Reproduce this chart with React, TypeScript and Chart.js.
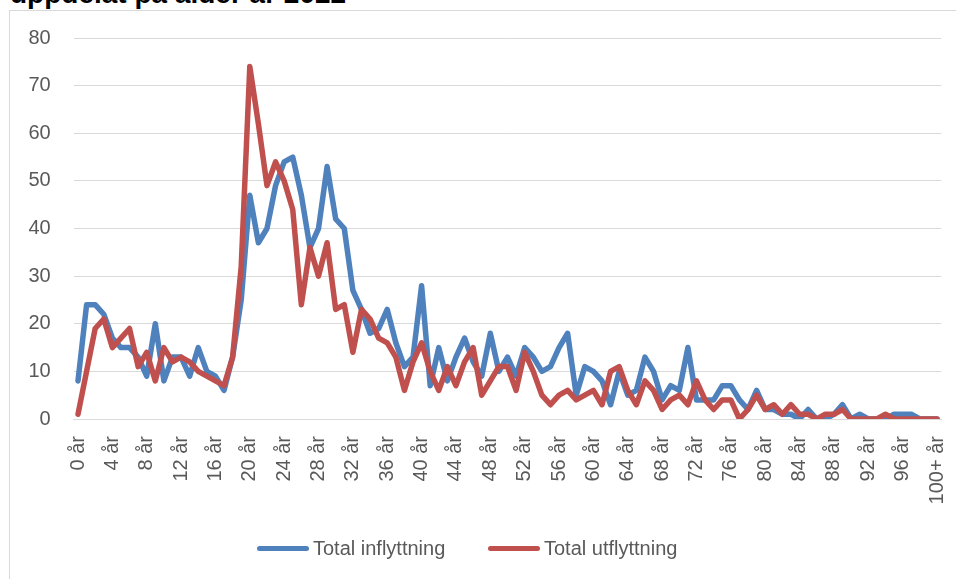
import React, { useEffect, useRef } from "react";
import { Chart, registerables } from "chart.js";

Chart.register(...registerables);

const categories: string[] = [
  ...Array.from({ length: 100 }, (_, i) => `${i} år`),
  "100+ år",
];

const inflyttning: number[] = [
  8, 24, 24, 22, 17, 15, 15, 13, 9, 20,
  8, 13, 13, 9, 15, 10, 9, 6, 13, 25,
  47, 37, 40, 49, 54, 55, 47, 36, 40, 53,
  42, 40, 27, 23, 18, 19, 23, 16, 11, 13,
  28, 7, 15, 8, 13, 17, 12, 9, 18, 10,
  13, 9, 15, 13, 10, 11, 15, 18, 5, 11,
  10, 8, 3, 10, 5, 6, 13, 10, 4, 7,
  6, 15, 4, 4, 4, 7, 7, 4, 2, 6,
  2, 2, 1, 1, 0, 2, 0, 0, 1, 3,
  0, 1, 0, 0, 0, 1, 1, 1, 0, 0,
  0,
];

const utflyttning: number[] = [
  1, 10, 19, 21, 15, 17, 19, 11, 14, 8,
  15, 12, 13, 12, 10, 9, 8, 7, 13, 32,
  74, 62, 49, 54, 50, 44, 24, 36, 30, 37,
  23, 24, 14, 23, 21, 17, 16, 13, 6, 12,
  16, 10, 6, 11, 7, 12, 15, 5, 8, 11,
  11, 6, 14, 10, 5, 3, 5, 6, 4, 5,
  6, 3, 10, 11, 6, 3, 8, 6, 2, 4,
  5, 3, 8, 4, 2, 4, 4, 0, 2, 5,
  2, 3, 1, 3, 1, 1, 0, 1, 1, 2,
  0, 0, 0, 0, 1, 0, 0, 0, 0, 0,
  0,
];

const seriesNames: string[] = ["Total inflyttning", "Total utflyttning"];
const seriesColors: string[] = ["#4F81BD", "#C0504D"];
const titleText = "uppdelat på ålder år 2022";

const FONT = "'Liberation Sans', Arial, sans-serif";
const TEXT = "#595959";

export default function App() {
  const ref = useRef<HTMLCanvasElement | null>(null);

  useEffect(() => {
    document.body.style.margin = "0";
    const canvas = ref.current;
    if (!canvas) return;
    const chart = new Chart(canvas, {
      type: "line",
      data: {
        labels: categories,
        datasets: [
          {
            label: seriesNames[0],
            data: inflyttning,
            borderColor: seriesColors[0],
            backgroundColor: seriesColors[0],
            borderWidth: 5.5,
            pointRadius: 0,
            tension: 0,
            borderCapStyle: "round",
            borderJoinStyle: "round",
            order: 2,
          },
          {
            label: seriesNames[1],
            data: utflyttning,
            borderColor: seriesColors[1],
            backgroundColor: seriesColors[1],
            borderWidth: 5.5,
            pointRadius: 0,
            tension: 0,
            borderCapStyle: "round",
            borderJoinStyle: "round",
            order: 1,
          },
        ],
      },
      options: {
        animation: false,
        responsive: false,
        maintainAspectRatio: false,
        layout: { padding: { top: 38, right: 14.7, left: 0, bottom: 0 } },
        plugins: {
          legend: { display: false },
          tooltip: { enabled: false },
          title: { display: false },
        },
        scales: {
          x: {
            type: "category",
            offset: true,
            grid: { display: false, drawTicks: false },
            border: { display: true, color: "#d9d9d9", width: 1 },
            ticks: {
              autoSkip: false,
              minRotation: 90,
              maxRotation: 90,
              padding: 17,
              color: TEXT,
              font: { family: FONT, size: 20 },
              callback: (_v: any, i: number) => (i % 4 === 0 ? categories[i] : ""),
            },
            afterFit: (scale: any) => {
              scale.height = 160;
              scale.paddingLeft = 0;
              scale.paddingRight = 0;
            },
          },
          y: {
            min: 0,
            max: 80,
            grid: { color: "#d9d9d9", lineWidth: 1, drawTicks: false },
            border: { display: false },
            ticks: {
              stepSize: 10,
              padding: 23,
              color: TEXT,
              font: { family: FONT, size: 20 },
            },
            afterFit: (scale: any) => {
              scale.width = 73.7;
            },
          },
        },
      },
    });
    return () => chart.destroy();
  }, []);

  const legendItem = (name: string, color: string, left: number) => (
    <div
      style={{
        position: "absolute",
        left,
        top: 536,
        height: 24,
        display: "flex",
        alignItems: "center",
        whiteSpace: "nowrap",
      }}
    >
      <div
        style={{
          width: 52,
          height: 5,
          borderRadius: 3,
          background: color,
          marginRight: 4,
        }}
      />
      <span style={{ fontFamily: FONT, fontSize: 20, color: TEXT, lineHeight: "24px" }}>
        {name}
      </span>
    </div>
  );

  return (
    <div
      style={{
        position: "relative",
        width: 956,
        height: 579,
        overflow: "hidden",
        background: "#fff",
      }}
    >
      <div
        style={{
          position: "absolute",
          left: 9,
          top: 10,
          width: 960,
          height: 600,
          border: "1.5px solid #d9d9d9",
          boxSizing: "border-box",
        }}
      />
      <div
        style={{
          position: "absolute",
          left: 10,
          top: -20,
          fontFamily: FONT,
          fontWeight: "bold",
          fontSize: 28,
          lineHeight: "28px",
          color: "#000",
          whiteSpace: "nowrap",
        }}
      >
        {titleText}
      </div>
      <canvas
        ref={ref}
        width={956}
        height={579}
        style={{ position: "absolute", left: 0, top: 0, width: 956, height: 579 }}
      />
      {legendItem(seriesNames[0], seriesColors[0], 257)}
      {legendItem(seriesNames[1], seriesColors[1], 488)}
    </div>
  );
}
